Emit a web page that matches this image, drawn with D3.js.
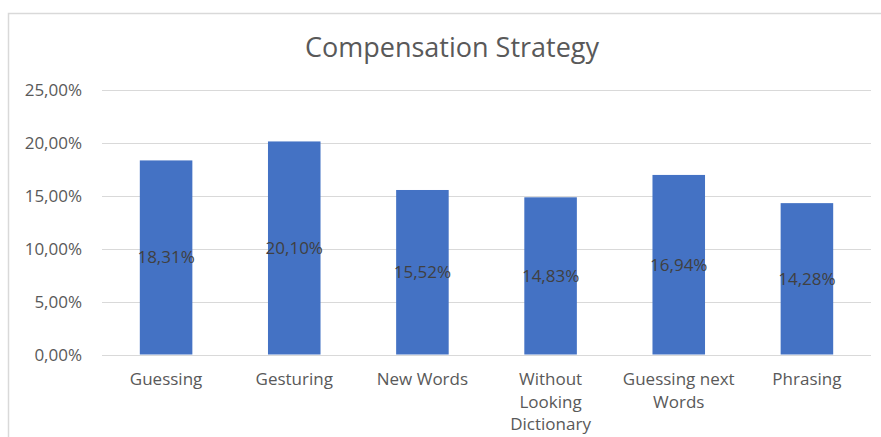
<!DOCTYPE html>
<html>
<head>
    <title>compensation-strategy</title>
    <meta charset="utf-8">
    <style type="text/css">
        body { margin: 0; background: #fff; }
        .grid line { stroke: #d9d9d9; stroke-width: 1; shape-rendering: crispEdges; }
        .grid path { display: none; }
        .axis text { font-family: "Open Sans", sans-serif; font-size: 17px; fill: #595959; }
        .label { font-family: "Open Sans", sans-serif; font-size: 17px; fill: #404040; }
        .title { font-family: "Open Sans", sans-serif; font-size: 27px; fill: #595959; }
    </style>
</head>
<body>
<script src="https://cdn.jsdelivr.net/npm/d3@7"></script>
<script type="text/javascript">
    /*=========DATA=========*/
    var categories = ['Guessing', 'Gesturing', 'New Words', 'Without Looking Dictionary', 'Guessing next Words', 'Phrasing'];
    // wrapped category labels as they appear on the axis
    var categoryLines = [['Guessing'], ['Gesturing'], ['New Words'], ['Without', 'Looking', 'Dictionary'], ['Guessing next', 'Words'], ['Phrasing']];
    var values = [18.31, 20.10, 15.52, 14.83, 16.94, 14.28];
    var yTicks = [0, 5, 10, 15, 20, 25];
    var title = 'Compensation Strategy';

    /*=====SIZE SVG======*/
    var svgWidth = 881;
    var svgHeight = 437;
    var plot = { left: 102, right: 871, top: 89.5, bottom: 354.5 };

    var fmt = function (v) { return v.toFixed(2).replace('.', ',') + '%'; };

    var xScale = d3.scaleBand().domain(categories).range([plot.left, plot.right]).padding(0);
    var yScale = d3.scaleLinear().domain([0, 25]).range([plot.bottom, plot.top]);
    var barWidth = xScale.bandwidth() * 0.41;

    var svg = d3.select('body').append('svg').attr('width', svgWidth).attr('height', svgHeight);

    // chart area border (extends past the window on the right and bottom)
    svg.append('rect')
        .attr('x', 8.5).attr('y', 13.5)
        .attr('width', 890).attr('height', 440)
        .attr('fill', '#fff').attr('stroke', '#d9d9d9').attr('stroke-width', 1.5);

    svg.append('text').attr('class', 'title')
        .attr('x', 452).attr('y', 57)
        .attr('text-anchor', 'middle')
        .text(title);

    // gridlines + y labels
    var yAxis = d3.axisLeft(yScale).tickValues(yTicks)
        .tickSize(-(plot.right - plot.left)).tickPadding(20).tickFormat(fmt);
    var gy = svg.append('g').attr('class', 'grid axis')
        .attr('transform', 'translate(' + plot.left + ',0)')
        .call(yAxis);
    gy.selectAll('.tick line').attr('stroke-width', 1.5);
    gy.selectAll('.tick text').attr('dy', '0.35em');

    // bars
    svg.append('g').selectAll('rect')
        .data(values)
        .enter().append('rect')
        .attr('x', function (d, i) { return xScale(categories[i]) + (xScale.bandwidth() - barWidth) / 2; })
        .attr('y', function (d) { return yScale(d); })
        .attr('width', barWidth)
        .attr('height', function (d) { return yScale(0) - yScale(d); })
        .attr('fill', '#4472c4');

    // value labels centered in bars
    svg.append('g').selectAll('text')
        .data(values)
        .enter().append('text').attr('class', 'label')
        .attr('x', function (d, i) { return xScale(categories[i]) + xScale.bandwidth() / 2; })
        .attr('y', function (d) { return (yScale(d) + yScale(0)) / 2; })
        .attr('dy', '0.35em')
        .attr('text-anchor', 'middle')
        .text(fmt);

    // category labels
    var gx = svg.append('g').attr('class', 'axis');
    gx.selectAll('text')
        .data(categories)
        .enter().append('text')
        .attr('x', function (d) { return xScale(d) + xScale.bandwidth() / 2; })
        .attr('y', 385)
        .attr('text-anchor', 'middle')
        .each(function (d, i) {
            var t = d3.select(this);
            categoryLines[i].forEach(function (line, j) {
                t.append('tspan')
                    .attr('x', xScale(d) + xScale.bandwidth() / 2)
                    .attr('dy', j === 0 ? 0 : 22.5)
                    .text(line);
            });
        });
</script>
</body>
</html>
